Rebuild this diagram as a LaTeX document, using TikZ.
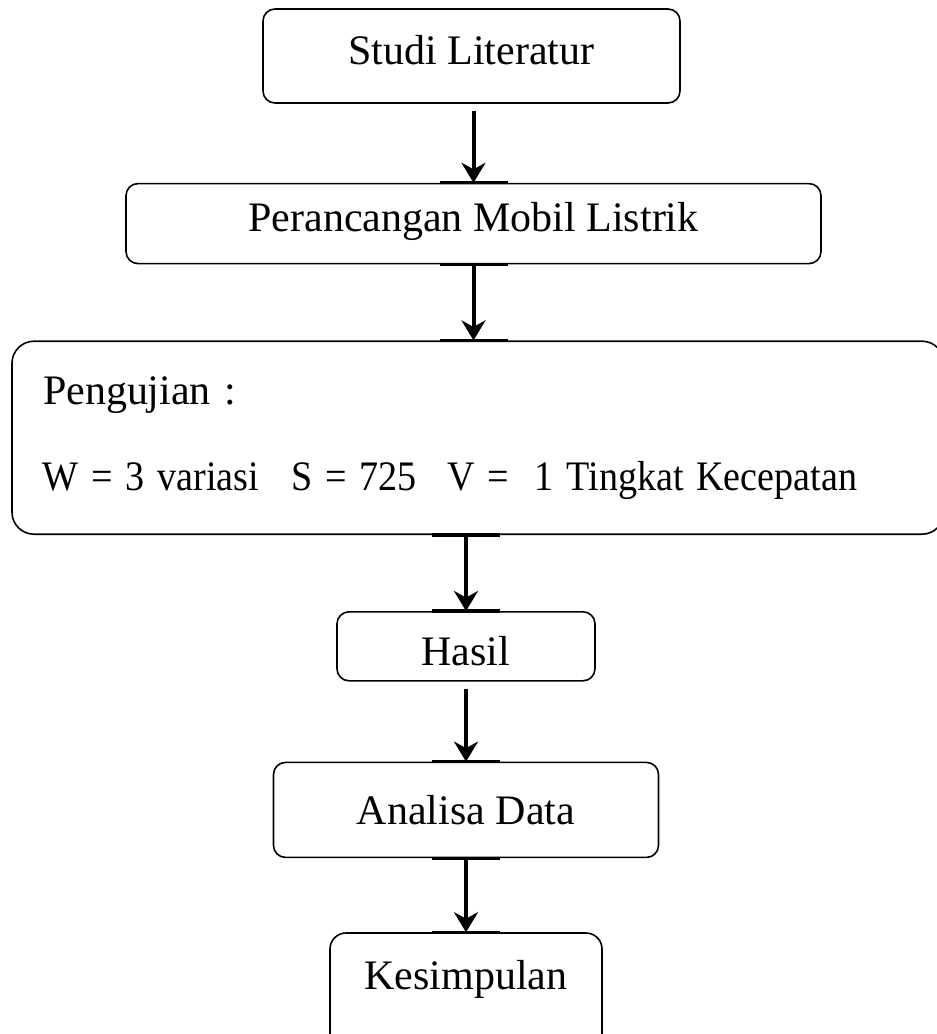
\documentclass[tikz,border=0pt]{standalone}
\usepackage{graphicx}
\usepackage{fontspec}
\setmainfont{Liberation Serif}
\usetikzlibrary{positioning,arrows.meta}

\begin{document}
\begin{tikzpicture}[
  x=0.5pt, y=-0.5pt,
  node distance=38pt,
  box/.style={draw, rounded corners=6pt, line width=0.8pt, inner sep=0pt, align=center, font=\fontsize{21}{25}\selectfont},
  arrow/.style={-{Stealth[length=10pt,width=12pt]}, line width=2pt},
  tick/.style={line width=1.6pt}
]
\useasboundingbox (0,0) rectangle (937,1034);

\node[box, minimum width=208.5pt, minimum height=47pt, text height=10pt, text depth=2pt] (lit) at (471.5,56) {Studi Literatur};
\node[box, minimum width=347.5pt, minimum height=40pt, text height=11pt, text depth=3pt, below=39.5pt of lit, xshift=1pt] (design) {Perancangan Mobil Listrik};
\node[box, rounded corners=11pt, align=left, text width=435pt, inner xsep=15.5pt, minimum height=96.5pt, below=38pt of design, xshift=2.25pt] (test)
  {Pengujian :\\[18pt]
   \resizebox{407pt}{\height}{W = 3 variasi\hspace{18pt}S = 725\hspace{17pt}V =\ \ 1 Tingkat Kecepatan}};
\node[box, minimum width=129pt, minimum height=34.5pt, text height=19pt, text depth=0pt, below=38pt of test, xshift=-6pt] (result) {Hasil};
\node[box, minimum width=192.5pt, minimum height=47.5pt, below=40pt of result] (analysis) {Analisa Data};
\node[box, rounded corners=8pt, minimum width=136pt, minimum height=60pt, text height=8pt, text depth=12pt, below=37pt of analysis] (concl) {Kesimpulan};

\draw[arrow, shorten <=3.5pt] (lit.south -| design.north) -- (design.north);
\draw[arrow] (design.south) -- (design.south |- test.north);
\draw[arrow] (test.south -| result.north) -- (result.north);
\draw[arrow, shorten <=3.5pt] (result.south -| analysis.north) -- (analysis.north);
\draw[arrow] (analysis.south -| concl.north) -- (concl.north);

% thicker bits of the box edges where the arrows meet them
\draw[tick] ([xshift=-17pt]design.north) -- ([xshift=17pt]design.north);
\draw[tick] ([xshift=-17pt]design.south) -- ([xshift=17pt]design.south);
\draw[tick] ([xshift=-17pt]design.south |- test.north) -- ([xshift=17pt]design.south |- test.north);
\draw[tick] ([xshift=-17pt]result.north |- test.south) -- ([xshift=17pt]result.north |- test.south);
\foreach \n in {result,analysis,concl}
  \draw[tick] ([xshift=-17pt]\n.north) -- ([xshift=17pt]\n.north);
\draw[tick] ([xshift=-17pt]analysis.south) -- ([xshift=17pt]analysis.south);
\end{tikzpicture}
\end{document}
